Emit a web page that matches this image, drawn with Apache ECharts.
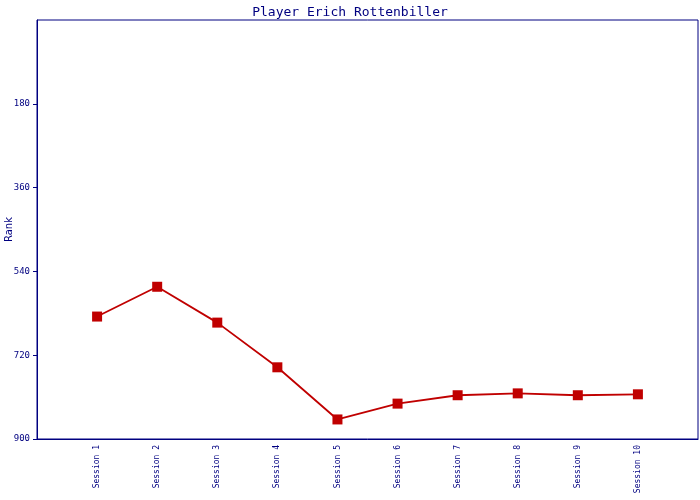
<!DOCTYPE html>
<html><head><meta charset="utf-8">
<script src="https://cdn.jsdelivr.net/npm/echarts@6/dist/echarts.min.js"></script>
<style>html,body{margin:0;padding:0;background:#fff}#c{width:700px;height:500px}</style>
</head><body><div id="c"></div>
<script>
const titleText = "Player Erich Rottenbiller";
const sessions = ["Session 1","Session 2","Session 3","Session 4","Session 5","Session 6","Session 7","Session 8","Session 9","Session 10"];
const ranks = [637, 573, 650, 746, 858, 824, 806, 802, 806, 804];
const yTicks = [180, 360, 540, 720, 900];

const navy = '#000080';
const red = '#C00000';
const chart = echarts.init(document.getElementById('c'), null, {renderer:'canvas'});
chart.setOption({
  animation: false,
  backgroundColor: '#fff',
  title: {text: titleText, left: 'center', top: 1,
    textStyle: {fontFamily: 'DejaVu Sans Mono', fontSize: 13, fontWeight: 'normal', color: navy}},
  grid: {left: 37, right: 2, top: 20, bottom: 61, containLabel: false, outerBoundsMode: 'none',
    show: true, borderColor: navy, borderWidth: 1, backgroundColor: '#fff'},
  xAxis: {type: 'value', min: 0, max: sessions.length + 1, interval: 1,
    axisLine: {show: true, onZero: false, lineStyle: {color: navy, width: 1}},
    axisTick: {show: false}, splitLine: {show: false},
    axisLabel: {rotate: 90, color: navy, fontFamily: 'DejaVu Sans Mono', fontSize: 8, margin: 6,
      formatter: v => (v >= 1 && v <= sessions.length) ? sessions[v - 1] : ''}},
  yAxis: {type: 'value', inverse: true, min: 0, max: 900, interval: 180,
    name: 'Rank', nameLocation: 'middle', nameGap: 23, nameRotate: 90, nameMoveOverlap: false,
    nameTextStyle: {color: navy, fontFamily: 'DejaVu Sans', fontSize: 10},
    axisLine: {show: true, lineStyle: {color: navy, width: 1}},
    axisTick: {show: true, length: 4, customValues: yTicks, lineStyle: {color: navy}},
    splitLine: {show: false},
    axisLabel: {color: navy, fontFamily: 'DejaVu Sans Mono', fontSize: 9, margin: 7,
      formatter: v => yTicks.indexOf(v) >= 0 ? String(v) : ''}},
  series: [{type: 'line', data: ranks.map((r, i) => [i + 1, r]),
    symbol: 'rect', symbolSize: 10, showAllSymbol: true,
    itemStyle: {color: red}, lineStyle: {color: red, width: 1.8}}]
});
</script></body></html>
